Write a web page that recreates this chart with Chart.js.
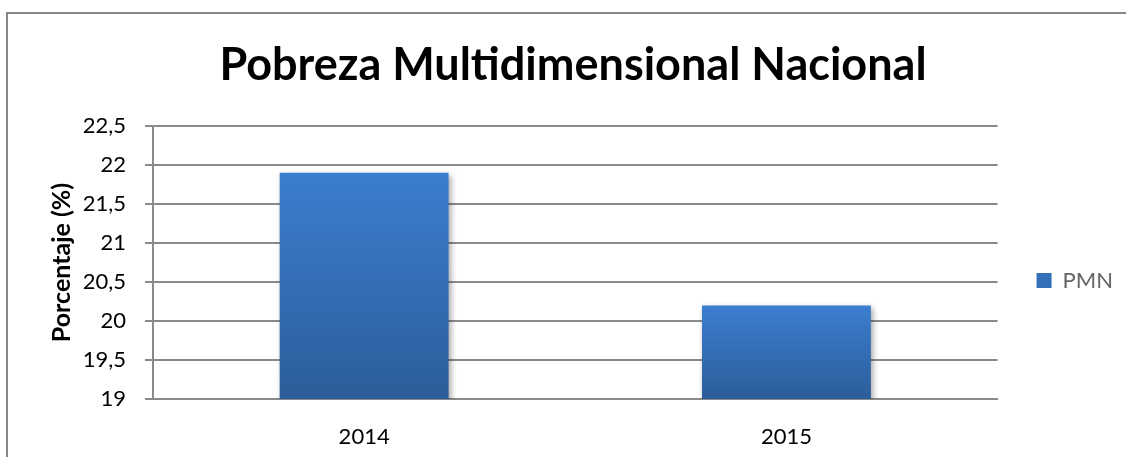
<!DOCTYPE html>
<html>
<head>
<meta charset="utf-8">
<script src="https://cdn.jsdelivr.net/npm/chart.js@4.4.1/dist/chart.umd.min.js"></script>
<style>
  html, body { margin: 0; padding: 0; background: #fff; overflow: hidden; }
  #wrap { position: relative; width: 1126px; height: 457px; }
  #frame {
    position: absolute; left: 6px; top: 12px; width: 1200px; height: 600px;
    border: 2px solid #878787; pointer-events: none;
  }
</style>
</head>
<body>
<div id="wrap">
  <canvas id="chart" width="1126" height="457"></canvas>
  <div id="frame"></div>
</div>
<script>
const categories = ["2014", "2015"];
const pmnValues = [21.9, 20.2];
const yTickLabels = ["19", "19,5", "20", "20,5", "21", "21,5", "22", "22,5"];
const seriesLabel = "PMN";

const gridColor = "#8a8a8a";

// vertical gradient per bar, from bar top down to the axis
function barGradient(context) {
  const chart = context.chart;
  const area = chart.chartArea;
  if (!area || context.dataIndex === undefined) return "#3470b8";
  const top = chart.scales.y.getPixelForValue(context.raw);
  const g = chart.ctx.createLinearGradient(0, top, 0, area.bottom);
  g.addColorStop(0, "#3b7ecf");
  g.addColorStop(1, "#2c5d9a");
  return g;
}

const barShadow = {
  id: "barShadow",
  beforeDatasetsDraw(chart) {
    const ctx = chart.ctx;
    ctx.save();
    ctx.shadowColor = "rgba(0,0,0,0.35)";
    ctx.shadowBlur = 6;
    ctx.shadowOffsetX = 2;
    ctx.shadowOffsetY = 3;
  },
  afterDatasetsDraw(chart) {
    chart.ctx.restore();
  }
};

new Chart(document.getElementById("chart"), {
  type: "bar",
  data: {
    labels: categories,
    datasets: [
      {
        label: seriesLabel,
        data: pmnValues,
        backgroundColor: barGradient,
        barPercentage: 0.4,
        categoryPercentage: 1,
      },
    ],
  },
  options: {
    responsive: false,
    devicePixelRatio: 1,
    animation: false,
    layout: { padding: { left: 23, right: 3, top: 10, bottom: 0 } },
    plugins: {
      title: {
        display: true,
        text: "Pobreza Multidimensional Nacional",
        color: "#000",
        font: { family: "Lato", size: 45, weight: "bold" },
        padding: { top: 28, bottom: 34 },
      },
      legend: {
        position: "right",
        title: { display: true, text: " ", font: { size: 10 }, padding: { top: 82, bottom: 0 } },
        labels: {
          color: "#000",
          font: { family: "Lato", size: 22 },
          boxWidth: 15,
          boxHeight: 15,
          padding: 39,
          generateLabels() {
            return [{
              text: seriesLabel,
              fillStyle: "#3470b8",
              strokeStyle: "#3470b8",
              lineWidth: 0,
              datasetIndex: 0,
            }];
          },
        },
      },
      tooltip: { enabled: false },
    },
    scales: {
      x: {
        grid: { display: false },
        border: { display: true, color: gridColor, width: 2 },
        ticks: { color: "#000", font: { family: "Lato", size: 22 }, padding: 17 },
        afterFit(scale) { scale.height = 58; },
      },
      y: {
        min: 19,
        max: 22.5,
        ticks: {
          stepSize: 0.5,
          color: "#000",
          font: { family: "Lato", size: 22 },
          padding: 19,
          callback: (v, i) => yTickLabels[i],
        },
        grid: { color: gridColor, lineWidth: 2, tickLength: 8, tickColor: gridColor },
        border: { display: true, color: gridColor, width: 2 },
        title: {
          display: true,
          text: "Porcentaje (%)",
          color: "#000",
          font: { family: "Lato", size: 25, weight: "bold" },
          padding: { top: 24, bottom: 8 },
        },
        afterFit(scale) { scale.width = 130; },
      },
    },
  },
  plugins: [barShadow],
});
</script>
</body>
</html>
